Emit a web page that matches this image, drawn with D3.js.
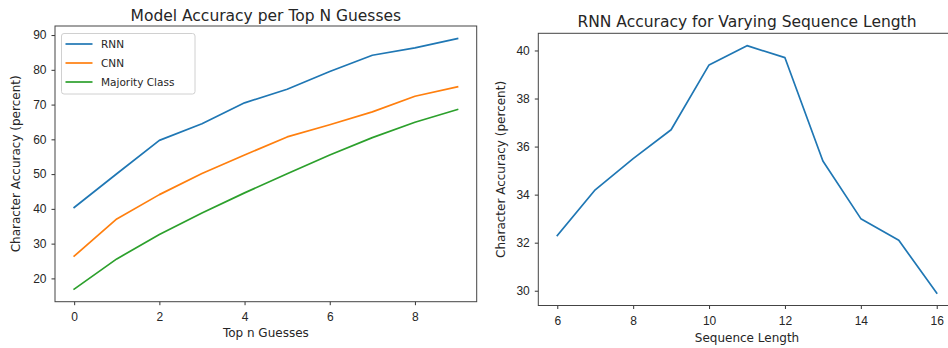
<!DOCTYPE html>
<html>
<head>
<meta charset="utf-8">
<script src="https://cdn.jsdelivr.net/npm/d3@7"></script>
<style>
  html, body { margin: 0; padding: 0; background: #fff; }
  svg { display: block; font-family: "DejaVu Sans", sans-serif; }
  .tick text { font-size: 12px; fill: #262626; }
  .tick line { stroke: #333; }
  .domain { display: none; }
</style>
</head>
<body>
<svg id="chart" width="948" height="348"></svg>
<script>
// ---- Data ----
const topN = [0, 1, 2, 3, 4, 5, 6, 7, 8, 9];
const rnnAcc = [40.4, 50.1, 59.7, 64.5, 70.5, 74.4, 79.5, 84.2, 86.3, 89.0];
const cnnAcc = [26.4, 37.1, 44.1, 50.2, 55.5, 60.7, 64.2, 67.9, 72.4, 75.1];
const majAcc = [16.9, 25.6, 32.6, 38.8, 44.6, 50.1, 55.5, 60.5, 64.9, 68.6];
const seriesNames = ["RNN", "CNN", "Majority Class"];

const seqLen = [6, 7, 8, 9, 10, 11, 12, 13, 14, 15, 16];
const seqAcc = [32.3, 34.2, 35.5, 36.7, 39.4, 40.2, 39.7, 35.4, 33.0, 32.1, 29.9];

const leftXTicks = [0, 2, 4, 6, 8];
const leftYTicks = [20, 30, 40, 50, 60, 70, 80, 90];
const rightXTicks = [6, 8, 10, 12, 14, 16];
const rightYTicks = [30, 32, 34, 36, 38, 40];

const colors = ["#1f77b4", "#ff7f0e", "#2ca02c"];

const svg = d3.select("#chart");

function padded(minV, maxV) {
  const m = (maxV - minV) * 0.05;
  return [minV - m, maxV + m];
}

function drawPanel(opts) {
  const { left, right, top, bottom, xDom, yDom, xTicks, yTicks, title, xLabel, yLabel, yLabelX, titleY, xLabelY } = opts;
  const g = svg.append("g");
  const x = d3.scaleLinear().domain(xDom).range([left, right]);
  const y = d3.scaleLinear().domain(yDom).range([bottom, top]);

  g.append("g").attr("transform", `translate(0,${bottom})`)
    .call(d3.axisBottom(x).tickValues(xTicks).tickSize(3.5).tickPadding(7.5).tickFormat(d3.format("d")));
  g.append("g").attr("transform", `translate(${left},0)`)
    .call(d3.axisLeft(y).tickValues(yTicks).tickSize(3.5).tickPadding(5).tickFormat(d3.format("d")));

  g.append("text").attr("x", (left + right) / 2).attr("y", titleY)
    .attr("text-anchor", "middle").attr("font-size", 15.5).attr("fill", "#262626").text(title);
  g.append("text").attr("x", (left + right) / 2).attr("y", xLabelY)
    .attr("text-anchor", "middle").attr("font-size", 12).attr("fill", "#262626").text(xLabel);
  g.append("text").attr("transform", `translate(${yLabelX},${(top + bottom) / 2}) rotate(-90)`)
    .attr("text-anchor", "middle").attr("font-size", 12).attr("fill", "#262626").text(yLabel);

  g.append("rect").attr("x", left).attr("y", top).attr("width", right - left).attr("height", bottom - top)
    .attr("fill", "none").attr("stroke", "#444").attr("stroke-width", 1);
  return { g, x, y };
}

// ---- Left panel ----
const allLeft = rnnAcc.concat(cnnAcc, majAcc);
const L = drawPanel({
  left: 55, right: 476.7, top: 26, bottom: 301.7,
  xDom: padded(d3.min(topN), d3.max(topN)),
  yDom: padded(d3.min(allLeft), d3.max(allLeft)),
  xTicks: leftXTicks, yTicks: leftYTicks,
  title: "Model Accuracy per Top N Guesses",
  xLabel: "Top n Guesses", yLabel: "Character Accuracy (percent)",
  yLabelX: 20, titleY: 20.5, xLabelY: 337
});
const leftSeries = [rnnAcc, cnnAcc, majAcc];
const lineL = d3.line().x((d, i) => L.x(topN[i])).y(d => L.y(d));
leftSeries.forEach((s, k) => {
  L.g.append("path").datum(s).attr("d", lineL)
    .attr("fill", "none").attr("stroke", colors[k]).attr("stroke-width", 1.7)
    .attr("stroke-linejoin", "round").attr("stroke-linecap", "square");
});

// legend
const lg = L.g.append("g");
lg.append("rect").attr("x", 61.5).attr("y", 33.5).attr("width", 133.5).attr("height", 60.5)
  .attr("rx", 2.5).attr("fill", "#fff").attr("fill-opacity", 0.8).attr("stroke", "#d0d0d0").attr("stroke-width", 1);
seriesNames.forEach((n, k) => {
  const yy = 44 + k * 19;
  lg.append("line").attr("x1", 65.5).attr("x2", 92.5).attr("y1", yy).attr("y2", yy)
    .attr("stroke", colors[k]).attr("stroke-width", 1.7);
  lg.append("text").attr("x", 101).attr("y", yy + 3.8).attr("font-size", 10.5).attr("fill", "#262626").text(n);
});

// ---- Right panel ----
const R = drawPanel({
  left: 538.3, right: 955.7, top: 33.3, bottom: 305.5,
  xDom: padded(d3.min(seqLen), d3.max(seqLen)),
  yDom: padded(d3.min(seqAcc), d3.max(seqAcc)),
  xTicks: rightXTicks, yTicks: rightYTicks,
  title: "RNN Accuracy for Varying Sequence Length",
  xLabel: "Sequence Length", yLabel: "Character Accuracy (percent)",
  yLabelX: 504.5, titleY: 26.5, xLabelY: 341.5
});
const lineR = d3.line().x((d, i) => R.x(seqLen[i])).y(d => R.y(d));
R.g.append("path").datum(seqAcc).attr("d", lineR)
  .attr("fill", "none").attr("stroke", colors[0]).attr("stroke-width", 1.7)
  .attr("stroke-linejoin", "round").attr("stroke-linecap", "square");
</script>
</body>
</html>
